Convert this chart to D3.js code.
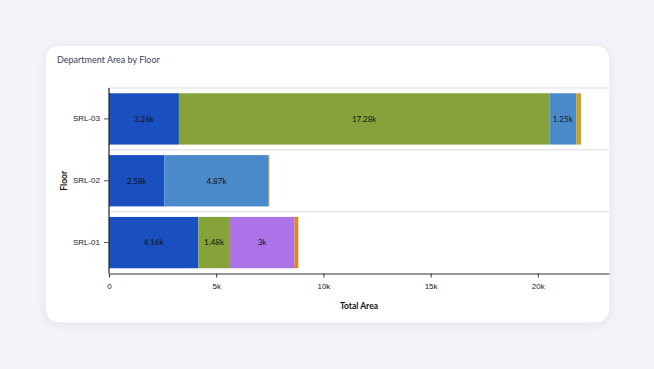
<!DOCTYPE html>
<html><head><meta charset="utf-8">
<script src="https://cdn.jsdelivr.net/npm/d3@7"></script>
<style>
html,body{margin:0;padding:0;background:#f3f4f8;}
svg{display:block;font-family:Lato, "Noto Sans", sans-serif;}
</style></head>
<body><svg id="c" width="654" height="369"></svg>
<script>
const floors = ["SRL-03", "SRL-02", "SRL-01"];
const departments = ["Dept A", "Dept B", "Dept C", "Dept D", "Dept E", "Dept F"];
const colors = ["#1a4fc0", "#87a23a", "#4b8ac8", "#ae72e8", "#c9a12e", "#d9892b"];
const deptA = [3260, 2580, 4160];
const deptB = [17280, 0, 1480];
const deptC = [1250, 4870, 0];
const deptD = [0, 0, 3000];
const deptE = [230, 30, 0];
const deptF = [0, 0, 190];
const xTicks = [0, 5000, 10000, 15000, 20000];

(function(){
const series = [deptA, deptB, deptC, deptD, deptE, deptF];
const rows = floors.map((f, i) => {
  const r = {floor: f};
  departments.forEach((d, j) => r[d] = series[j][i]);
  return r;
});

const svg = d3.select("#c");
const defs = svg.append("defs");
const flt = defs.append("filter").attr("id","sh").attr("x","-10%").attr("y","-10%").attr("width","120%").attr("height","130%");
flt.append("feDropShadow").attr("dx",0).attr("dy",2).attr("stdDeviation",4).attr("flood-color","#9aa0b8").attr("flood-opacity",0.18);

svg.append("rect").attr("x",45).attr("y",45).attr("width",565).attr("height",278)
  .attr("rx",14).attr("fill","#fff").attr("stroke","#e6e7ee").attr("stroke-width",1).attr("filter","url(#sh)");

svg.append("text").attr("x",57).attr("y",63).attr("font-size",9).attr("fill","#3b4058")
  .text("Department Area by Floor");

const L = 109, R = 609, T = 88, B = 273.5;
const x = d3.scaleLinear().domain([0, 23320]).range([L, R]);
const y = d3.scaleBand().domain(floors).range([T, B]).paddingInner(0.17).paddingOuter(0.085);

const seps = floors.map(f => y(f) - y.step()*y.paddingInner()/2);
svg.append("g").selectAll("line").data(seps).join("line")
  .attr("x1", L).attr("x2", R).attr("y1", d=>d).attr("y2", d=>d)
  .attr("stroke","#e7e8ec").attr("stroke-width",1.5);

const stack = d3.stack().keys(departments)(rows);
const g = svg.append("g");
stack.forEach((s, j) => {
  g.selectAll(null).data(s).join("rect")
    .attr("x", d => x(d[0])).attr("width", d => Math.max(0, x(d[1]) - x(d[0])))
    .attr("y", d => y(d.data.floor)).attr("height", y.bandwidth())
    .attr("fill", colors[j]);
  g.selectAll(null).data(s.filter(d => x(d[1]) - x(d[0]) > 22)).join("text")
    .attr("x", d => (x(d[0]) + x(d[1]))/2).attr("y", d => y(d.data.floor) + y.bandwidth()/2)
    .attr("dy","0.35em").attr("text-anchor","middle").attr("font-size",8).attr("fill","#111")
    .text(d => d3.format("~s")(Math.round((d[1]-d[0])/10)*10));
});

const xa = svg.append("g").attr("transform", `translate(0,${B})`)
  .call(d3.axisBottom(x).tickValues(xTicks).tickSize(4).tickSizeOuter(0).tickFormat(d => d===0 ? "0" : (d/1000)+"k"));
xa.select(".domain").attr("stroke","#333").attr("stroke-width",1.2);
xa.selectAll(".tick line").attr("stroke","#333");
xa.selectAll("text").attr("font-size",8).attr("fill","#222").attr("dy","1.1em").attr("font-family",null);

const ya = svg.append("g").attr("transform", `translate(${L},0)`)
  .call(d3.axisLeft(y).tickSize(5).tickSizeOuter(0));
ya.select(".domain").attr("stroke","#222").attr("stroke-width",1.2).attr("d", `M0,${T}V${B}`);
ya.selectAll(".tick line").attr("stroke","#555");
ya.selectAll("text").attr("font-size",8).attr("fill","#222").attr("x",-9).attr("font-family",null);

svg.append("text").attr("x",(L+R)/2).attr("y",309).attr("text-anchor","middle")
  .attr("font-size",8.5).attr("font-weight","bold").attr("fill","#111").text("Total Area");
svg.append("text").attr("transform",`translate(67,${(T+B)/2}) rotate(-90)`).attr("text-anchor","middle")
  .attr("font-size",8.5).attr("font-weight","bold").attr("fill","#111").text("Floor");
})();
</script></body></html>
